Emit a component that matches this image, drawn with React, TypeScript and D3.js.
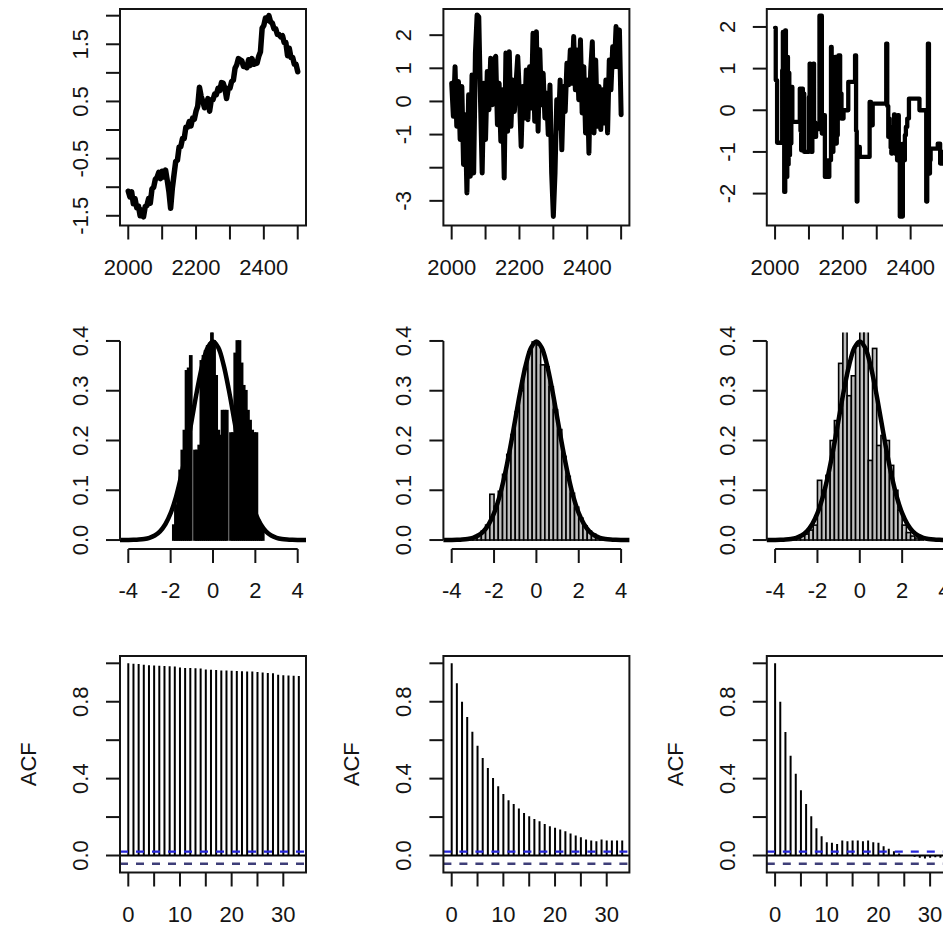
import React from 'react';
import * as d3 from 'd3';

// ---- data ----
const years = d3.range(2000, 2501, 5);

const ts1 = [
  -1.07, -1.17, -1.08, -1.29, -1.2, -1.36, -1.33, -1.5, -1.4, -1.52,
  -1.34, -1.32, -1.2, -1.28, -1.03, -1.0, -0.86, -0.83, -0.74, -0.85,
  -0.72, -0.82, -0.7, -0.88, -1.08, -1.37, -1.02, -0.78, -0.55, -0.53,
  -0.3, -0.29, -0.15, -0.15, 0.05, 0.05, 0.15, 0.07, 0.21, 0.19,
  0.33, 0.42, 0.75, 0.59, 0.5, 0.39, 0.43, 0.55, 0.33, 0.53,
  0.53, 0.63, 0.62, 0.73, 0.69, 0.83, 0.82, 0.73, 0.55, 0.73,
  0.73, 0.85, 0.87, 1.08, 1.14, 1.25, 1.23, 1.21, 1.11, 1.11,
  1.09, 1.23, 1.13, 1.25, 1.15, 1.16, 1.17, 1.29, 1.37, 1.78,
  1.83, 1.96, 1.92, 2.0, 1.89, 1.87, 1.77, 1.77, 1.67, 1.67,
  1.63, 1.65, 1.53, 1.53, 1.3, 1.43, 1.27, 1.27, 1.15, 1.15,
  1.02,
];

const ts2 = [
  0.55, -0.45, 1.05, -0.75, 0.6, -1.15, 0.45, -1.9, -0.4, -2.76,
  0.2, -2.26, 0.8, -2.16, 1.46, 2.61, 2.55, 0.05, -2.16, 0.55,
  -1.15, 0.9, -0.25, 1.3, -0.1, 1.25, 1.36, -0.7, 0.55, -1.2,
  0.35, -2.31, 1.46, -0.9, 1.5, -0.75, 0.65, -0.3, 0.55, 1.36,
  0.15, -1.36, 0.45, -0.5, 0.95, -0.55, 1.05, -0.2, 2.06, -0.6,
  2.1, -0.9, 1.56, -0.1, 0.85, -0.5, 0.25, -1.0, 0.5, -2.16,
  -3.47, -2.16, 0.05, -0.8, 0.65, -1.46, 0.45, -0.3, 1.15, 0.5,
  1.55, 0.55, 1.96, 0.35, 1.55, 0.05, 1.86, -0.35, 1.05, -0.95,
  0.65, -1.56, 0.9, 1.8, -0.95, 1.25, -0.75, 0.45, -0.85, 0.35,
  -0.65, 0.65, -0.95, 1.25, 0.35, 1.65, 1.05, 2.26, 1.05, 2.16,
  -0.4,
];

// third series holds its value between jumps
const ts3Years = [
  2000, 2002, 2006, 2021, 2023, 2025, 2027, 2030, 2032, 2034, 2036, 2038,
  2040, 2042, 2044, 2046, 2048, 2051, 2073, 2075, 2077, 2080, 2082, 2084,
  2086, 2100, 2102, 2104, 2106, 2110, 2113, 2115, 2117, 2119, 2121, 2131,
  2138, 2142, 2145, 2147, 2150, 2152, 2160, 2165, 2167, 2170, 2172, 2174,
  2177, 2179, 2182, 2185, 2187, 2192, 2196, 2202, 2216, 2236, 2239, 2241,
  2243, 2246, 2248, 2250, 2279, 2283, 2288, 2328, 2331, 2334, 2336, 2338,
  2341, 2343, 2346, 2348, 2351, 2353, 2356, 2358, 2360, 2362, 2365, 2368,
  2371, 2374, 2377, 2380, 2383, 2386, 2390, 2395, 2426, 2446, 2449, 2451,
  2454, 2457, 2459, 2480, 2487, 2493, 2500,
];
const ts3Values = [
  1.98, 0.72, -0.78, 0.96, 1.88, -0.5, -1.96, 1.92, -0.3, -1.6, 1.28, -1.3,
  0.9, -1.08, 0.4, -0.8, 0.56, -0.28, 0.52, -0.5, -0.96, 0.52, -0.3, 0.4,
  -1.0, 0.32, 1.12, -0.2, -1.0, 0.9, 1.12, -0.64, -0.3, -0.64, -0.45, 2.27,
  -0.56, -0.3, -0.12, -1.6, -1.2, -1.6, -1.2, 1.52, -0.3, -1.0, 0.6, -0.6,
  1.28, -0.8, -0.6, 0.5, 1.32, 0.4, -0.2, 0.0, 0.68, 1.32, -0.5, -2.19,
  -0.88, -1.12, -0.88, -1.12, 0.2, -0.36, 0.16, 1.6, 0.1, -0.64, -0.2, -0.4,
  -0.9, -1.04, -0.5, -0.64, -0.1, -1.04, -0.6, -0.4, -1.2, -0.12, -0.8, -2.55,
  -1.0, -2.55, -0.8, -1.2, -0.6, -0.4, -0.2, 0.28, 0.0, -2.19, -0.5, 1.6,
  -1.52, -1.2, -0.92, -0.8, -1.28, -1.0, -1.0,
];

const hist1Start = -1.9;
const hist1Width = 0.1;
const hist1 = [
  0.03, 0.07, 0.1, 0.14, 0.18, 0.22, 0.34, 0.345, 0.37, 0.0,
  0.18, 0.18, 0.19, 0.36, 0.37, 0.38, 0.39, 0.395, 0.43, 0.4,
  0.33, 0.22, 0.21, 0.26, 0.26, 0.26, 0.0, 0.215, 0.215, 0.375,
  0.4, 0.4, 0.355, 0.31, 0.3, 0.26, 0.24, 0.22, 0.215, 0.215,
  0.04, 0.03, 0.02,
];

const hist2Start = -3.6;
const hist2Width = 0.2;
const hist2 = [
  0.001, 0.002, 0.004, 0.006, 0.011, 0.018, 0.03, 0.092, 0.068, 0.098,
  0.132, 0.172, 0.212, 0.258, 0.3, 0.345, 0.378, 0.398, 0.392, 0.352,
  0.348, 0.308, 0.262, 0.222, 0.168, 0.128, 0.094, 0.066, 0.044, 0.028,
  0.018, 0.012, 0.006, 0.003, 0.002, 0.001,
];

const hist3Start = -3.4;
const hist3Width = 0.2;
const hist3 = [
  0.002, 0.003, 0.005, 0.008, 0.012, 0.02, 0.03, 0.12, 0.1, 0.13,
  0.2, 0.24, 0.355, 0.45, 0.29, 0.33, 0.39, 0.45, 0.45, 0.16,
  0.385, 0.19, 0.21, 0.2, 0.15, 0.1, 0.06, 0.03, 0.015, 0.008,
  0.004, 0.002,
];

// normal density overlay
const densityX = d3.range(-4.5, 4.5001, 0.25);
const densityY = [
  0.00002, 0.00005, 0.00013, 0.00035, 0.00087, 0.00203, 0.00443, 0.00909,
  0.01753, 0.03174, 0.05399, 0.08628, 0.12952, 0.18265, 0.24197, 0.30114,
  0.35207, 0.38667, 0.39894, 0.38667, 0.35207, 0.30114, 0.24197, 0.18265,
  0.12952, 0.08628, 0.05399, 0.03174, 0.01753, 0.00909, 0.00443, 0.00203,
  0.00087, 0.00035, 0.00013, 0.00005, 0.00002,
];

const lags = d3.range(0, 34);
const acf1 = [
  1.0, 0.998, 0.997, 0.992, 0.99, 0.988, 0.987, 0.986, 0.985, 0.983,
  0.978, 0.976, 0.975, 0.974, 0.973, 0.968, 0.966, 0.965, 0.963, 0.962,
  0.961, 0.96, 0.959, 0.958, 0.957, 0.955, 0.952, 0.95, 0.948, 0.94,
  0.938, 0.936, 0.935, 0.934,
];
const acf2 = [
  1.0, 0.896, 0.8, 0.72, 0.644, 0.571, 0.507, 0.455, 0.403, 0.36,
  0.32, 0.287, 0.268, 0.244, 0.221, 0.204, 0.19, 0.178, 0.164, 0.152,
  0.144, 0.135, 0.126, 0.114, 0.104, 0.095, 0.083, 0.078, 0.074, 0.083,
  0.078, 0.078, 0.078, 0.078,
];
const acf3 = [
  1.0, 0.8, 0.642, 0.519, 0.426, 0.339, 0.268, 0.204, 0.142, 0.1,
  0.069, 0.066, 0.06, 0.078, 0.074, 0.078, 0.078, 0.074, 0.078, 0.069,
  0.066, 0.048, 0.035, 0.022, 0.01, 0.003, 0.0, -0.007, -0.012, -0.016,
  -0.012, -0.009, -0.012, -0.01,
];
const ciUpper = 0.02;
const ciLower = -0.043;

const yearTicks = [2000, 2100, 2200, 2300, 2400, 2500];
const yearLabels = [2000, 2200, 2400];
const tsYTicks = [
  [-1.5, -1, -0.5, 0, 0.5, 1, 1.5, 2],
  [-3, -2, -1, 0, 1, 2],
  [-2, -1, 0, 1, 2],
];
const tsYLabels = [
  ['-1.5', '-0.5', '0.5', '1.5'],
  ['-3', '-1', '0', '1', '2'],
  ['-2', '-1', '0', '1', '2'],
];
const histXTicks = [-4, -2, 0, 2, 4];
const histYTicks = [0, 0.1, 0.2, 0.3, 0.4];
const histYLabels = ['0.0', '0.1', '0.2', '0.3', '0.4'];
const lagTicks = [0, 5, 10, 15, 20, 25, 30];
const lagLabels = [0, 10, 20, 30];
const acfYTicks = [0, 0.2, 0.4, 0.6, 0.8, 1.0];
const acfYLabels = ['0.0', '0.4', '0.8'];

// ---- layout ----
const W = 943;
const H = 925;
const FONT = '"Liberation Sans", Arial, Helvetica, sans-serif';
const FS = 22;
const INK = '#141414';
const COL_DX = 323.4;
const BOX_L = 120;
const BOX_R = 306;
const ROW_TOP = [9, 332.5, 656];
const BOX_H = 216.5;
const TICK = 14;

const yearLim = [1975.6, 2524.4];
const tsYLim = [[-1.67, 2.117], [-3.744, 2.79], [-2.766, 2.431]];
const histXLim = [-4.392, 4.392];
const histYLim = [-0.018, 0.417];
const lagLim = [-1.606, 34.39];
const acfYLim = [-0.0884, 1.038];

function XAxis({ scale, ticks, labels, y, line }: any) {
  return (
    <g>
      {line && (
        <line x1={scale(ticks[0])} x2={scale(ticks[ticks.length - 1])} y1={y} y2={y}
          stroke={INK} strokeWidth={2} />
      )}
      {ticks.map((t: number) => (
        <line key={t} x1={scale(t)} x2={scale(t)} y1={y} y2={y + TICK} stroke={INK} strokeWidth={2} />
      ))}
      {labels.map((t: number) => (
        <text key={t} x={scale(t)} y={y + 49} textAnchor="middle" fontFamily={FONT}
          fontSize={FS} fill={INK}>{String(t)}</text>
      ))}
    </g>
  );
}

function YAxis({ scale, ticks, labels, x, labelX, line }: any) {
  return (
    <g>
      {line && (
        <line x1={x} x2={x} y1={scale(ticks[0])} y2={scale(ticks[ticks.length - 1])}
          stroke={INK} strokeWidth={2} />
      )}
      {ticks.map((t: number) => (
        <line key={t} x1={x - TICK} x2={x} y1={scale(t)} y2={scale(t)} stroke={INK} strokeWidth={2} />
      ))}
      {labels.map((s: string) => (
        <text key={s} transform={`translate(${labelX},${scale(+s)}) rotate(-90)`} textAnchor="middle"
          fontFamily={FONT} fontSize={FS} fill={INK}>{s}</text>
      ))}
    </g>
  );
}

function TsPanel({ col }: { col: number }) {
  const dx = col * COL_DX;
  const top = ROW_TOP[0];
  const bottom = top + BOX_H;
  const x = d3.scaleLinear().domain(yearLim).range([dx + BOX_L, dx + BOX_R]);
  const y = d3.scaleLinear().domain(tsYLim[col]).range([bottom, top]);
  let path: string | null;
  if (col === 2) {
    path = d3.line<number>()
      .x((_, i) => x(ts3Years[i]))
      .y((d) => y(d))
      .curve(d3.curveStepAfter)(ts3Values);
  } else {
    const s = col === 0 ? ts1 : ts2;
    path = d3.line<number>().x((_, i) => x(years[i])).y((d) => y(d))(s);
  }
  const id = `clip-ts-${col}`;
  const sw = [5.5, 5, 4.3][col];
  return (
    <g>
      <clipPath id={id}>
        <rect x={dx + BOX_L} y={top} width={BOX_R - BOX_L} height={BOX_H} />
      </clipPath>
      <path d={path || ''} fill="none" stroke="#000" strokeWidth={sw}
        strokeLinejoin="round" strokeLinecap="round" clipPath={`url(#${id})`} />
      <rect x={dx + BOX_L} y={top} width={BOX_R - BOX_L} height={BOX_H} fill="none" stroke={INK} strokeWidth={2} />
      <XAxis scale={x} ticks={yearTicks} labels={yearLabels} y={bottom} />
      <YAxis scale={y} ticks={tsYTicks[col]} labels={tsYLabels[col]} x={dx + BOX_L} labelX={dx + 88} />
    </g>
  );
}

function HistPanel({ col }: { col: number }) {
  const dx = col * COL_DX;
  const top = ROW_TOP[1];
  const bottom = top + BOX_H;
  const x = d3.scaleLinear().domain(histXLim).range([dx + BOX_L, dx + BOX_R]);
  const y = d3.scaleLinear().domain(histYLim).range([bottom, top]);
  const start = [hist1Start, hist2Start, hist3Start][col];
  const width = [hist1Width, hist2Width, hist3Width][col];
  const values = [hist1, hist2, hist3][col];
  const fill = col === 0 ? '#000' : '#bebebe';
  const curve = d3.line<number>()
    .x((_, i) => x(densityX[i]))
    .y((d) => y(d))
    .curve(d3.curveCatmullRom)(densityY);
  const id = `clip-hist-${col}`;
  return (
    <g>
      <clipPath id={id}>
        <rect x={dx + BOX_L} y={top} width={BOX_R - BOX_L} height={BOX_H} />
      </clipPath>
      <g clipPath={`url(#${id})`}>
        {values.map((v, i) => {
          if (v <= 0) return null;
          const x0 = x(start + i * width);
          const x1 = x(start + (i + 1) * width);
          return (
            <rect key={i} x={x0} y={y(v)} width={x1 - x0} height={y(0) - y(v)}
              fill={fill} stroke="#000" strokeWidth={1.6} />
          );
        })}
        <path d={curve || ''} fill="none" stroke="#000" strokeWidth={4.5} strokeLinejoin="round" />
      </g>
      <XAxis scale={x} ticks={histXTicks} labels={histXTicks} y={bottom} line />
      <YAxis scale={y} ticks={histYTicks} labels={histYLabels} x={dx + BOX_L} labelX={dx + 88} line />
    </g>
  );
}

function AcfPanel({ col }: { col: number }) {
  const dx = col * COL_DX;
  const top = ROW_TOP[2];
  const bottom = top + BOX_H;
  const x = d3.scaleLinear().domain(lagLim).range([dx + BOX_L, dx + BOX_R]);
  const y = d3.scaleLinear().domain(acfYLim).range([bottom, top]);
  const values = [acf1, acf2, acf3][col];
  const id = `clip-acf-${col}`;
  return (
    <g>
      <clipPath id={id}>
        <rect x={dx + BOX_L} y={top} width={BOX_R - BOX_L} height={BOX_H} />
      </clipPath>
      <g clipPath={`url(#${id})`}>
        {values.map((v, i) => (
          <line key={i} x1={x(lags[i])} x2={x(lags[i])} y1={y(0)} y2={y(v)} stroke="#000" strokeWidth={2} />
        ))}
        <line x1={dx + BOX_L} x2={dx + BOX_R} y1={y(0)} y2={y(0)} stroke="#000" strokeWidth={2} />
        <line x1={dx + BOX_L} x2={dx + BOX_R} y1={y(ciUpper)} y2={y(ciUpper)} stroke="#2424d8"
          strokeWidth={2.4} strokeDasharray="8,8" />
        <line x1={dx + BOX_L} x2={dx + BOX_R} y1={y(ciLower)} y2={y(ciLower)} stroke="#3e3e78"
          strokeWidth={2.4} strokeDasharray="8,8" />
      </g>
      <rect x={dx + BOX_L} y={top} width={BOX_R - BOX_L} height={BOX_H} fill="none" stroke={INK} strokeWidth={2} />
      <XAxis scale={x} ticks={lagTicks} labels={lagLabels} y={bottom} />
      <YAxis scale={y} ticks={acfYTicks} labels={acfYLabels} x={dx + BOX_L} labelX={dx + 88} />
      <text transform={`translate(${dx + 36},${(top + bottom) / 2}) rotate(-90)`} textAnchor="middle"
        fontFamily={FONT} fontSize={FS} fill={INK}>ACF</text>
    </g>
  );
}

export default function App() {
  return (
    <svg width={W} height={H} viewBox={`0 0 ${W} ${H}`}
      style={{ position: 'absolute', left: 0, top: 0, background: '#fff', display: 'block' }}>
      <rect x={0} y={0} width={W} height={H} fill="#fff" />
      {[0, 1, 2].map((c) => <TsPanel key={`t${c}`} col={c} />)}
      {[0, 1, 2].map((c) => <HistPanel key={`h${c}`} col={c} />)}
      {[0, 1, 2].map((c) => <AcfPanel key={`a${c}`} col={c} />)}
    </svg>
  );
}
